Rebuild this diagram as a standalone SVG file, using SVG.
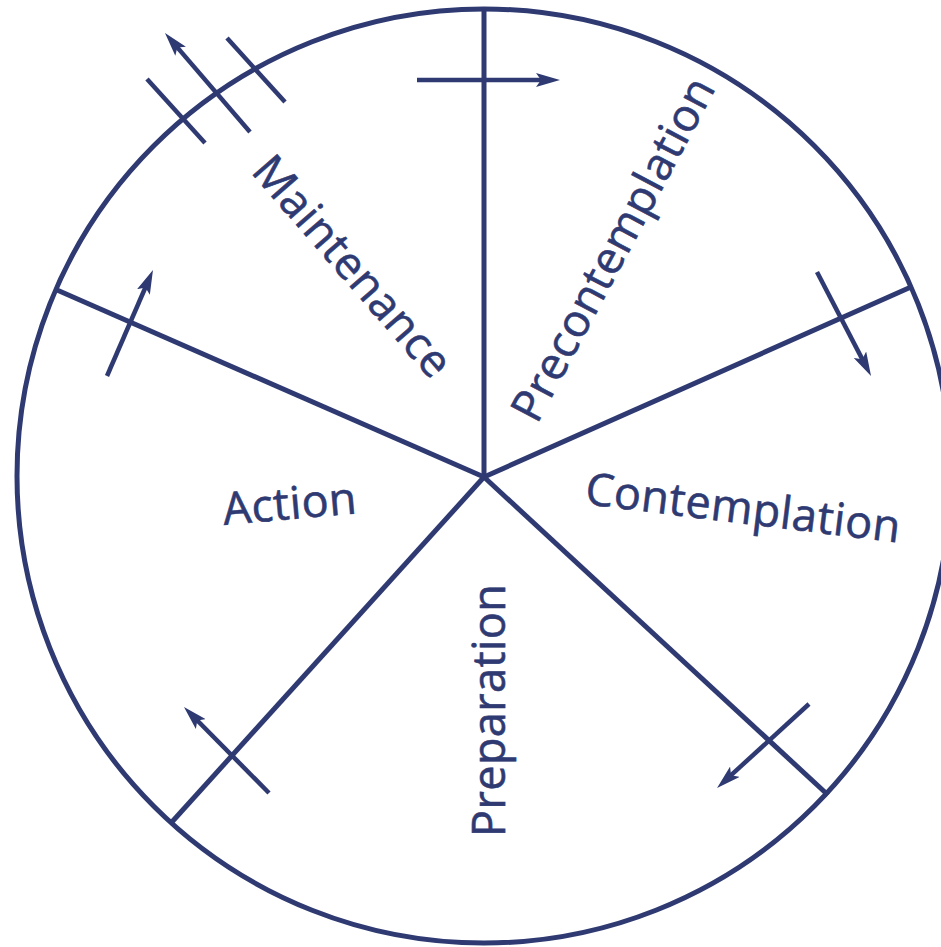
<svg xmlns="http://www.w3.org/2000/svg" width="941" height="947" viewBox="0 0 941 947">
<defs>
<style>
.ln{stroke:#2e3a71;stroke-width:5;fill:none;stroke-linecap:butt}
.ar{stroke:#2e3a71;stroke-width:4.5;fill:none}
.lbl{font-family:"Open Sans","Noto Sans","Liberation Sans",sans-serif;font-size:45px;letter-spacing:0.4px;fill:#2e3a71;stroke:#2e3a71;stroke-width:0.6}
</style>
<marker id="ah" viewBox="0 0 24 14" refX="12" refY="7" markerWidth="24" markerHeight="14" markerUnits="userSpaceOnUse" orient="auto">
<path d="M0,0 L24,7 L0,14 L5,7 z" fill="#2e3a71"/>
</marker>
</defs>
<rect width="941" height="947" fill="#ffffff"/>
<g id="wheel">
<circle class="ln" cx="484" cy="476" r="467"/>
<line class="ln" x1="484" y1="477" x2="484" y2="9"/>
<line class="ln" x1="484" y1="477" x2="911" y2="287"/>
<line class="ln" x1="484" y1="477" x2="828" y2="795"/>
<line class="ln" x1="484" y1="477" x2="171" y2="823"/>
<line class="ln" x1="484" y1="477" x2="57" y2="290"/>
</g>
<g id="precontemplation"><text class="lbl" transform="translate(537,425) rotate(-62)">Precontemplation</text></g>
<g id="contemplation"><text class="lbl" transform="translate(584,504) rotate(7)">Contemplation</text></g>
<g id="preparation"><text class="lbl" transform="translate(505,837) rotate(-90)">Preparation</text></g>
<g id="action"><text class="lbl" transform="translate(224,525) rotate(-5)">Action</text></g>
<g id="maintenance"><text class="lbl" transform="translate(250,172) rotate(49)">Maintenance</text></g>
<g id="connectors">
<line class="ar" x1="417" y1="80" x2="548" y2="80" marker-end="url(#ah)"/>
<line class="ar" x1="817" y1="272" x2="865.5" y2="365.4" marker-end="url(#ah)"/>
<line class="ar" x1="809" y1="704" x2="725.9" y2="779.9" marker-end="url(#ah)"/>
<line class="ar" x1="269" y1="793" x2="192.4" y2="715.5" marker-end="url(#ah)"/>
<line class="ar" x1="107" y1="376" x2="148.2" y2="281" marker-end="url(#ah)"/>
<line class="ar" x1="250" y1="132" x2="172.8" y2="42.1" marker-end="url(#ah)"/>
<line class="ar" x1="147" y1="79" x2="205" y2="143"/>
<line class="ar" x1="227" y1="38" x2="285" y2="102"/>
</g>
</svg>
